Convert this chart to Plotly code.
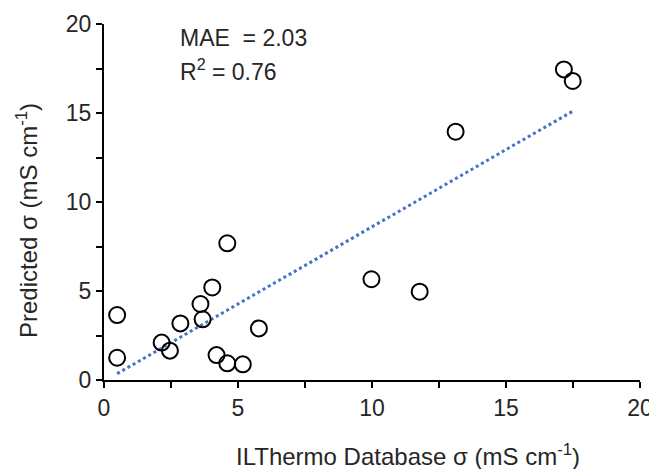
import numpy as np
import plotly.graph_objects as go

actual = [0.49, 0.49, 2.15, 2.46, 2.85, 3.60, 3.68, 4.04, 4.20, 4.60, 4.60, 5.18, 5.78, 9.98, 11.78, 13.12, 17.16, 17.49]
predicted = [3.65, 1.25, 2.10, 1.65, 3.18, 4.27, 3.41, 5.20, 1.40, 7.68, 0.94, 0.88, 2.90, 5.66, 4.96, 13.95, 17.45, 16.80]
mae_text = "MAE  = 2.03"
r2_text = "R<sup>2</sup> = 0.76"
x_title = "ILThermo Database σ (mS cm<sup>-1</sup>)"
y_title = "Predicted σ (mS cm<sup>-1</sup>)"

slope, intercept = np.polyfit(actual, predicted, 1)
fx = np.array([min(actual), max(actual)])
fy = slope * fx + intercept

font = "Liberation Sans, Arial, sans-serif"
txt = "#262626"
fig = go.Figure()
fig.add_trace(go.Scatter(x=fx, y=fy, mode="lines",
                         line=dict(color="#4472C4", width=3, dash="dot"),
                         showlegend=False, hoverinfo="skip"))
fig.add_trace(go.Scatter(x=actual, y=predicted, mode="markers",
                         marker=dict(size=16, color="rgba(255,255,255,0)",
                                     line=dict(color="black", width=2)),
                         showlegend=False))

axis_common = dict(range=[0, 20], dtick=5, tick0=0, showgrid=False, zeroline=False,
                   automargin=False,
                   showline=True, linecolor="black", linewidth=2,
                   ticks="outside", ticklen=6, tickwidth=2, tickcolor="black",
                   minor=dict(dtick=2.5, ticks="outside", ticklen=6, tickwidth=2, tickcolor="black", showgrid=False),
                   tickfont=dict(family=font, size=23, color=txt))
fig.update_xaxes(**axis_common)
fig.update_yaxes(**axis_common)

# axis titles as annotations (offset as in the reference)
fig.add_annotation(x=0.5, y=0, xref="paper", yref="paper", text=x_title,
                   showarrow=False, xanchor="center", yanchor="middle",
                   xshift=36, yshift=-75,
                   font=dict(family=font, size=24, color=txt))
fig.add_annotation(x=0, y=0.5, xref="paper", yref="paper", text=y_title,
                   showarrow=False, xanchor="center", yanchor="middle", textangle=-90,
                   xshift=-77, yshift=-19,
                   font=dict(family=font, size=24, color=txt))

fig.add_annotation(x=0, y=1, xref="paper", yref="paper", text=mae_text,
                   showarrow=False, xanchor="left", yanchor="middle",
                   xshift=74, yshift=-14,
                   font=dict(family=font, size=23, color=txt))
fig.add_annotation(x=0, y=1, xref="paper", yref="paper", text=r2_text,
                   showarrow=False, xanchor="left", yanchor="middle",
                   xshift=74, yshift=-46,
                   font=dict(family=font, size=23, color=txt))

fig.update_layout(width=649, height=461, margin=dict(l=96, r=17, t=16, b=89),
                  plot_bgcolor="white", paper_bgcolor="white")
fig.write_html("out.html")
